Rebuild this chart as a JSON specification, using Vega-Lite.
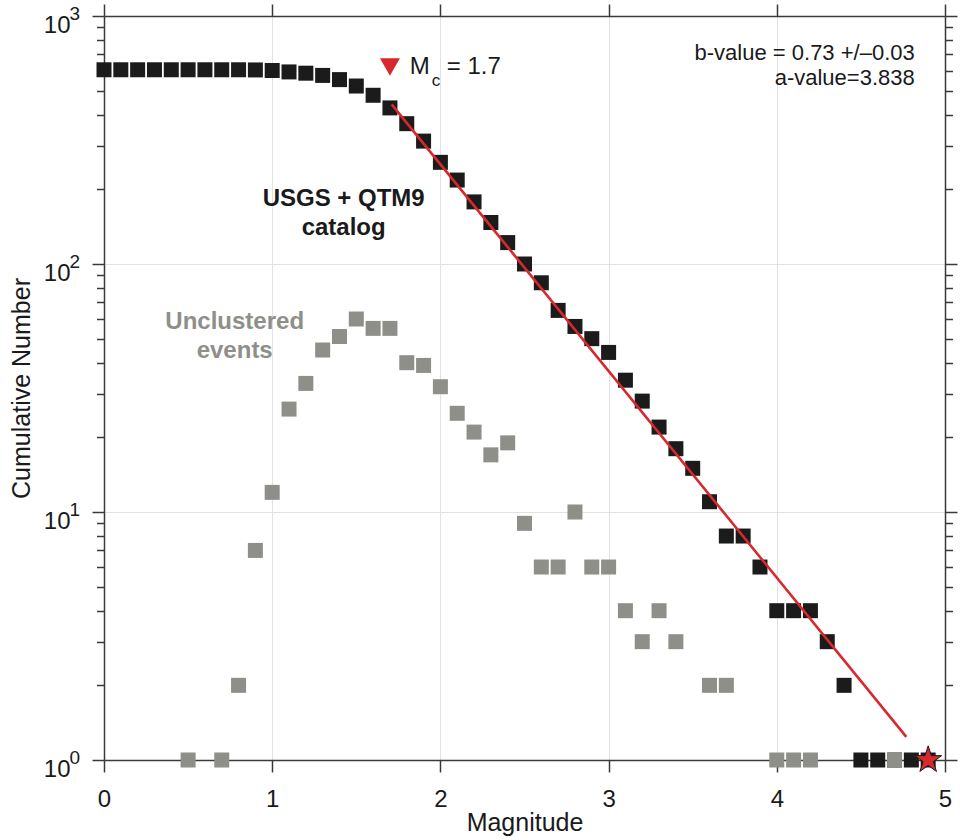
{
  "$schema": "https://vega.github.io/schema/vega-lite/v6.json",
  "width": 841,
  "height": 744,
  "autosize": "none",
  "padding": {"left": 104, "top": 16, "right": 16, "bottom": 79},
  "background": "white",
  "config": {
    "view": {"stroke": null},
    "font": "Liberation Sans",
    "axis": {"labelFont": "Liberation Sans", "titleFont": "Liberation Sans", "labelOverlap": false}
  },
  "datasets": {
    "catalog": [
      {"magnitude": 0.0, "count": 607}, {"magnitude": 0.1, "count": 607}, {"magnitude": 0.2, "count": 607},
      {"magnitude": 0.3, "count": 607}, {"magnitude": 0.4, "count": 607}, {"magnitude": 0.5, "count": 607},
      {"magnitude": 0.6, "count": 607}, {"magnitude": 0.7, "count": 607}, {"magnitude": 0.8, "count": 607},
      {"magnitude": 0.9, "count": 606}, {"magnitude": 1.0, "count": 603}, {"magnitude": 1.1, "count": 595},
      {"magnitude": 1.2, "count": 588}, {"magnitude": 1.3, "count": 576}, {"magnitude": 1.4, "count": 554},
      {"magnitude": 1.5, "count": 522}, {"magnitude": 1.6, "count": 479}, {"magnitude": 1.7, "count": 426},
      {"magnitude": 1.8, "count": 368}, {"magnitude": 1.9, "count": 313}, {"magnitude": 2.0, "count": 257},
      {"magnitude": 2.1, "count": 218}, {"magnitude": 2.2, "count": 178}, {"magnitude": 2.3, "count": 147},
      {"magnitude": 2.4, "count": 122}, {"magnitude": 2.5, "count": 100}, {"magnitude": 2.6, "count": 84},
      {"magnitude": 2.7, "count": 65}, {"magnitude": 2.8, "count": 56}, {"magnitude": 2.9, "count": 50},
      {"magnitude": 3.0, "count": 44}, {"magnitude": 3.1, "count": 34}, {"magnitude": 3.2, "count": 28},
      {"magnitude": 3.3, "count": 22}, {"magnitude": 3.4, "count": 18}, {"magnitude": 3.5, "count": 15},
      {"magnitude": 3.6, "count": 11}, {"magnitude": 3.7, "count": 8}, {"magnitude": 3.8, "count": 8},
      {"magnitude": 3.9, "count": 6}, {"magnitude": 4.0, "count": 4}, {"magnitude": 4.1, "count": 4},
      {"magnitude": 4.2, "count": 4}, {"magnitude": 4.3, "count": 3}, {"magnitude": 4.4, "count": 2},
      {"magnitude": 4.5, "count": 1}, {"magnitude": 4.6, "count": 1}, {"magnitude": 4.7, "count": 1},
      {"magnitude": 4.8, "count": 1}, {"magnitude": 4.9, "count": 1}
    ],
    "unclustered": [
      {"magnitude": 0.5, "count": 1}, {"magnitude": 0.7, "count": 1}, {"magnitude": 0.8, "count": 2},
      {"magnitude": 0.9, "count": 7}, {"magnitude": 1.0, "count": 12}, {"magnitude": 1.1, "count": 26},
      {"magnitude": 1.2, "count": 33}, {"magnitude": 1.3, "count": 45}, {"magnitude": 1.4, "count": 51},
      {"magnitude": 1.5, "count": 60}, {"magnitude": 1.6, "count": 55}, {"magnitude": 1.7, "count": 55},
      {"magnitude": 1.8, "count": 40}, {"magnitude": 1.9, "count": 39}, {"magnitude": 2.0, "count": 32},
      {"magnitude": 2.1, "count": 25}, {"magnitude": 2.2, "count": 21}, {"magnitude": 2.3, "count": 17},
      {"magnitude": 2.4, "count": 19}, {"magnitude": 2.5, "count": 9}, {"magnitude": 2.6, "count": 6},
      {"magnitude": 2.7, "count": 6}, {"magnitude": 2.8, "count": 10}, {"magnitude": 2.9, "count": 6},
      {"magnitude": 3.0, "count": 6}, {"magnitude": 3.1, "count": 4}, {"magnitude": 3.2, "count": 3},
      {"magnitude": 3.3, "count": 4}, {"magnitude": 3.4, "count": 3}, {"magnitude": 3.6, "count": 2},
      {"magnitude": 3.7, "count": 2}, {"magnitude": 4.0, "count": 1}, {"magnitude": 4.1, "count": 1},
      {"magnitude": 4.2, "count": 1}, {"magnitude": 4.7, "count": 1}
    ],
    "fit": [
      {"magnitude": 1.71, "count": 440}, {"magnitude": 4.77, "count": 1.24}
    ],
    "mainshock": [
      {"magnitude": 4.9, "count": 1}
    ],
    "mc": [
      {"mc": 1.7}
    ],
    "exps": [
      {"e": "3", "v": 1000}, {"e": "2", "v": 100}, {"e": "1", "v": 10}, {"e": "0", "v": 1}
    ]
  },
  "resolve": {"axis": {"x": "independent", "y": "independent"}},
  "layer": [
    {
      "data": {"name": "catalog"},
      "mark": {"type": "point", "shape": "square", "filled": true, "size": 225, "color": "#1b1b1b", "opacity": 1},
      "encoding": {
        "x": {
          "field": "magnitude", "type": "quantitative",
          "scale": {"domain": [0, 5], "nice": false, "zero": false},
          "axis": {
            "orient": "bottom", "values": [0, 1, 2, 3, 4, 5], "format": "d", "title": "Magnitude",
            "grid": true, "gridColor": "#e2e2e2", "gridWidth": 1,
            "domainColor": "#3a3a3a", "domainWidth": 1.5, "tickColor": "#3a3a3a", "tickWidth": 1.5, "tickSize": 12,
            "labelFontSize": 24, "labelPadding": 15, "labelColor": "#1a1a1a", "labelFlush": false,
            "titleFontSize": 25, "titleFontWeight": "normal", "titleColor": "#1a1a1a", "titlePadding": -1
          }
        },
        "y": {
          "field": "count", "type": "quantitative",
          "scale": {"type": "log", "domain": [1, 1000], "nice": false},
          "axis": {
            "orient": "left",
            "values": [1, 2, 3, 4, 5, 6, 7, 8, 9, 10, 20, 30, 40, 50, 60, 70, 80, 90, 100, 200, 300, 400, 500, 600, 700, 800, 900, 1000],
            "labelExpr": "indexof([1,10,100,1000], datum.value) >= 0 ? '10' : ''",
            "tickSize": {"condition": {"test": "indexof([1,10,100,1000], datum.value) >= 0", "value": 12}, "value": 7.5},
            "grid": true, "gridColor": "#e2e2e2", "gridWidth": 1,
            "gridOpacity": {"condition": {"test": "indexof([10,100], datum.value) >= 0", "value": 1}, "value": 0},
            "domainColor": "#3a3a3a", "domainWidth": 1.5, "tickColor": "#3a3a3a", "tickWidth": 1.5,
            "labelFontSize": 24, "labelColor": "#1a1a1a", "labelBaseline": "alphabetic", "labelOffset": 16,
            "labelPadding": 22, "labelFlush": false,
            "title": "Cumulative Number", "titleFontSize": 25, "titleFontWeight": "normal", "titleColor": "#1a1a1a",
            "titlePadding": 9
          }
        }
      }
    },
    {
      "data": {"name": "unclustered"},
      "mark": {"type": "point", "shape": "square", "filled": true, "size": 225, "color": "#8f8f8a", "opacity": 1},
      "encoding": {
        "x": {
          "field": "magnitude", "type": "quantitative",
          "axis": {
            "orient": "top", "values": [0, 1, 2, 3, 4, 5], "labels": false, "title": null, "grid": false,
            "domainColor": "#3a3a3a", "domainWidth": 1.5, "tickColor": "#3a3a3a", "tickWidth": 1.5, "tickSize": 12
          }
        },
        "y": {
          "field": "count", "type": "quantitative",
          "axis": {
            "orient": "right",
            "values": [1, 2, 3, 4, 5, 6, 7, 8, 9, 10, 20, 30, 40, 50, 60, 70, 80, 90, 100, 200, 300, 400, 500, 600, 700, 800, 900, 1000],
            "labels": false, "title": null, "grid": false,
            "tickSize": {"condition": {"test": "indexof([1,10,100,1000], datum.value) >= 0", "value": 12}, "value": 7.5},
            "domainColor": "#3a3a3a", "domainWidth": 1.5, "tickColor": "#3a3a3a", "tickWidth": 1.5
          }
        }
      }
    },
    {
      "data": {"name": "fit"},
      "mark": {"type": "line", "color": "#d6282d", "strokeWidth": 2.6},
      "encoding": {
        "x": {"field": "magnitude", "type": "quantitative", "axis": null},
        "y": {"field": "count", "type": "quantitative", "axis": null}
      }
    },
    {
      "data": {"name": "mainshock"},
      "mark": {
        "type": "point", "filled": true, "size": 800, "fill": "#d6282d", "stroke": "#1a1a1a", "strokeWidth": 1, "opacity": 1,
        "shape": "M0,-1L0.2245,-0.309L0.9511,-0.309L0.3633,0.118L0.5878,0.809L0,0.382L-0.5878,0.809L-0.3633,0.118L-0.9511,-0.309L-0.2245,-0.309Z"
      },
      "encoding": {
        "x": {"field": "magnitude", "type": "quantitative", "axis": null},
        "y": {"field": "count", "type": "quantitative", "axis": null}
      }
    },
    {
      "data": {"name": "mc"},
      "mark": {"type": "point", "shape": "triangle-down", "filled": true, "size": 400, "color": "#d6282d", "opacity": 1},
      "encoding": {
        "x": {"field": "mc", "type": "quantitative", "axis": null},
        "y": {"datum": 623, "type": "quantitative", "axis": null}
      }
    },
    {
      "data": {"name": "mc"},
      "mark": {"type": "text", "text": "M", "fontSize": 24, "align": "left", "baseline": "alphabetic", "color": "#1a1a1a"},
      "encoding": {
        "x": {"datum": 1.8175, "type": "quantitative", "axis": null},
        "y": {"datum": 582, "type": "quantitative", "axis": null}
      }
    },
    {
      "data": {"name": "mc"},
      "mark": {"type": "text", "text": "c", "fontSize": 17, "align": "left", "baseline": "alphabetic", "color": "#1a1a1a"},
      "encoding": {
        "x": {"datum": 1.948, "type": "quantitative", "axis": null},
        "y": {"datum": 521, "type": "quantitative", "axis": null}
      }
    },
    {
      "data": {"name": "mc"},
      "mark": {"type": "text", "text": "= 1.7", "fontSize": 24, "align": "left", "baseline": "alphabetic", "color": "#1a1a1a"},
      "encoding": {
        "x": {"datum": 2.0375, "type": "quantitative", "axis": null},
        "y": {"datum": 582, "type": "quantitative", "axis": null}
      }
    },
    {
      "data": {"name": "mc"},
      "mark": {"type": "text", "text": ["b-value = 0.73 +/–0.03", "a-value=3.838"], "fontSize": 22, "lineHeight": 25.7, "align": "right", "baseline": "alphabetic", "color": "#1a1a1a"},
      "encoding": {
        "x": {"datum": 4.82, "type": "quantitative", "axis": null},
        "y": {"datum": 666.5, "type": "quantitative", "axis": null}
      }
    },
    {
      "data": {"name": "mc"},
      "mark": {"type": "text", "text": ["USGS + QTM9", "catalog"], "fontSize": 24, "fontWeight": "bold", "lineHeight": 29.3, "align": "center", "baseline": "alphabetic", "color": "#1a1a1a"},
      "encoding": {
        "x": {"datum": 1.425, "type": "quantitative", "axis": null},
        "y": {"datum": 171.5, "type": "quantitative", "axis": null}
      }
    },
    {
      "data": {"name": "mc"},
      "mark": {"type": "text", "text": ["Unclustered", "events"], "fontSize": 24, "fontWeight": "bold", "lineHeight": 29.3, "align": "center", "baseline": "alphabetic", "color": "#8f8f8a"},
      "encoding": {
        "x": {"datum": 0.777, "type": "quantitative", "axis": null},
        "y": {"datum": 54.6, "type": "quantitative", "axis": null}
      }
    },
    {
      "data": {"name": "exps"},
      "mark": {"type": "text", "fontSize": 19, "align": "left", "baseline": "alphabetic", "dx": -34.4, "dy": 3.5, "color": "#1a1a1a"},
      "encoding": {
        "x": {"datum": 0, "type": "quantitative", "axis": null},
        "y": {"field": "v", "type": "quantitative", "axis": null},
        "text": {"field": "e", "type": "nominal"}
      }
    }
  ]
}
